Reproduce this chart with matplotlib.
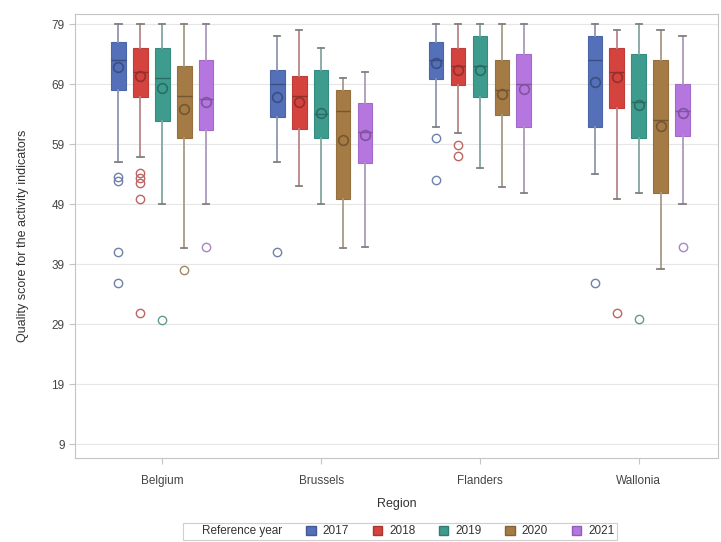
import matplotlib
matplotlib.use("Agg")
import matplotlib.pyplot as plt
from matplotlib.patches import Patch
from matplotlib.colors import to_rgb

plt.rcParams['font.family'] = ['Liberation Sans', 'DejaVu Sans']

regions = ["Belgium", "Brussels", "Flanders", "Wallonia"]
years = ["2017", "2018", "2019", "2020", "2021"]
colors = ["#5470B8", "#D5433F", "#3D9C8E", "#A57B45", "#B576E0"]

# rows = years, columns = regions
whishi = [[79, 77, 79, 79],
          [79, 78, 79, 78],
          [79, 75, 79, 79],
          [79, 70, 79, 78],
          [79, 71, 79, 77]]
q3 = [[76, 71.3, 76, 77],
      [75, 70.3, 75, 75],
      [75, 71.3, 77, 74],
      [72, 68, 73, 73],
      [73, 65.9, 74, 69]]
med = [[73, 69, 73, 73],
       [71, 67, 72, 71],
       [70, 64, 72, 66],
       [67, 64.5, 68, 63],
       [66.5, 61, 69, 64.5]]
mean = [[71.8, 66.8, 72.5, 69.3],
        [70.3, 66, 71.3, 70.2],
        [68.3, 64.2, 71.3, 65.5],
        [64.8, 59.7, 67.3, 62],
        [66, 60.5, 68.2, 64.2]]
q1 = [[68, 63.5, 69.8, 61.8],
      [66.8, 61.5, 68.8, 65],
      [62.8, 60, 66.8, 60],
      [60, 49.8, 63.8, 50.8],
      [61.3, 55.8, 61.8, 60.3]]
whislo = [[56, 56, 61.8, 54],
          [56.9, 52, 60.8, 49.8],
          [49, 49, 55, 50.8],
          [41.7, 41.7, 51.8, 38.2],
          [49, 41.8, 50.8, 49]]
fliers = [[[53.5, 52.8, 41, 35.8], [41], [60, 53], [35.8]],
          [[54.2, 53.3, 52.5, 49.8, 30.8], [], [58.8, 57], [30.8]],
          [[29.7], [], [], [29.8]],
          [[38], [], [], []],
          [[41.8], [], [], [41.8]]]


def mix(c, other, t):
    a, b = to_rgb(c), to_rgb(other)
    return tuple(a[i] * (1 - t) + b[i] * t for i in range(3))


fig = plt.figure(figsize=(7.21, 5.42), dpi=100)
ax = fig.add_axes([0.104, 0.155, 0.892, 0.819])

offset = 0.138
for k, year in enumerate(years):
    c = colors[k]
    dark = mix(c, "black", 0.3)
    stats = []
    for j in range(len(regions)):
        stats.append(dict(whislo=whislo[k][j], q1=q1[k][j], med=med[k][j],
                          mean=mean[k][j], q3=q3[k][j], whishi=whishi[k][j],
                          fliers=fliers[k][j]))
    pos = [j + (k - 2) * offset for j in range(len(regions))]
    ax.bxp(stats, positions=pos, widths=0.092, patch_artist=True,
           showmeans=True, manage_ticks=False, capwidths=0.04,
           boxprops=dict(facecolor=c, edgecolor=mix(c, "black", 0.1), linewidth=0.8),
           medianprops=dict(color=dark, linewidth=1.0),
           whiskerprops=dict(color=mix(c, "#aaaaaa", 0.65), linewidth=1.3),
           capprops=dict(color="#808080", linewidth=1.3),
           meanprops=dict(marker="o", markerfacecolor="none",
                          markeredgecolor=dark, markersize=7, markeredgewidth=1.2),
           flierprops=dict(marker="o", markerfacecolor="none",
                           markeredgecolor=mix(c, "#999999", 0.4), markersize=6,
                           markeredgewidth=1.0))

ax.set_xlim(-0.55, 3.5)
ax.set_ylim(6.67, 80.67)
ax.set_yticks(range(9, 80, 10))
ax.set_xticks(range(len(regions)))
ax.set_xticklabels(regions)
ax.grid(axis="y", color="#E6E6E6", linewidth=0.8)
ax.set_axisbelow(True)
for s in ax.spines.values():
    s.set_color("#C4C4C4")
ax.tick_params(colors="#C4C4C4", labelcolor="#444444", labelsize=8.5, length=4)
ax.tick_params(axis="x", pad=8)
ax.set_xlabel("Region", fontsize=9, color="#333333", labelpad=8)
ax.set_ylabel("Quality score for the activity indicators", fontsize=9,
              color="#333333", labelpad=16)

handles = [Patch(facecolor="none", edgecolor="none", label="Reference year")]
handles += [Patch(facecolor=colors[k], edgecolor=mix(colors[k], "black", 0.2),
                  label=y) for k, y in enumerate(years)]
leg = fig.legend(handles=handles, loc="lower center", bbox_to_anchor=(0.555, -0.008),
                 ncol=6, fontsize=8.5, frameon=True, fancybox=False,
                 handlelength=0.8, handleheight=0.8, handletextpad=0.6,
                 columnspacing=2.0, borderpad=0.25)
leg.get_frame().set_edgecolor("#C4C4C4")
leg.get_frame().set_linewidth(0.8)
for t in leg.get_texts():
    t.set_color("#333333")

fig.savefig("out.png", dpi=100)
